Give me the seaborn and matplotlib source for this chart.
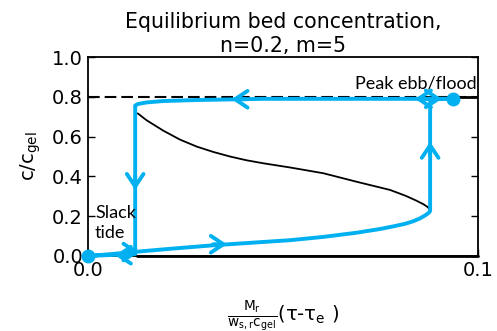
import numpy as np
import pandas as pd
import matplotlib
matplotlib.use('Agg')
import matplotlib.pyplot as plt
import seaborn as sns

# 平衡曲线下支（读图取点），同时也是涨潮路径
x_lower = [0.0, 0.00615, 0.01249, 0.02231, 0.03213, 0.04282, 0.05179, 0.06033, 0.06890,
           0.07487, 0.07872, 0.08128, 0.08341, 0.08513, 0.08641, 0.08730, 0.0877]
c_lower = [0.0, 0.010, 0.0216, 0.0382, 0.0538, 0.0678, 0.0794, 0.0960, 0.1171,
           0.1357, 0.1508, 0.1618, 0.1749, 0.1894, 0.2040, 0.2160, 0.226]
# 平衡曲线上支
x_upper = [0.0877, 0.08755, 0.08700, 0.08600, 0.08420, 0.08150, 0.07744, 0.06890, 0.06033,
           0.05179, 0.04495, 0.04069, 0.03641, 0.03213, 0.02787, 0.02359, 0.01931, 0.01505, 0.01274]
c_upper = [0.226, 0.236, 0.247, 0.260, 0.278, 0.302, 0.332, 0.373, 0.416,
           0.445, 0.466, 0.481, 0.500, 0.523, 0.550, 0.585, 0.630, 0.682, 0.717]

# 潮周期路径：上升 -> 峰值 -> 回落 -> 憩流
x_rise = [0.0877, 0.0877, 0.0936]
c_rise = [0.226, 0.790, 0.790]
x_fall = [0.0936, 0.0450, 0.0364, 0.0279, 0.0193, 0.01505, 0.0128, 0.0121, 0.0121, 0.0]
c_fall = [0.790, 0.790, 0.787, 0.784, 0.779, 0.772, 0.764, 0.756, 0.010, 0.0]

# 箭头位置和方向
arrow_x = [0.0356, 0.0877, 0.0907, 0.0838, 0.0368, 0.0121, 0.0069, 0.0132]
arrow_c = [0.059, 0.574, 0.790, 0.790, 0.788, 0.332, 0.004, 0.020]
arrow_dir = ['right', 'up', 'right', 'left', 'left', 'down', 'left', 'right']

dots_x = [0.0, 0.0936]
dots_c = [0.0, 0.787]

c_gel_line = 0.8
peak_x_start = 0.0936

blue = '#00b0f0'

sns.set_style('ticks')
plt.rcParams['font.family'] = ['DejaVu Sans']
plt.rcParams['mathtext.default'] = 'regular'
plt.rcParams['text.color'] = 'black'
plt.rcParams['axes.labelcolor'] = 'black'

fig = plt.figure(figsize=(4.97, 3.31), dpi=100)
ax = fig.add_axes([0.177, 0.2266, 0.785, 0.601])

ax.axhline(c_gel_line, color='black', lw=1.5, ls=(0, (5.6, 2.4)), zorder=1)
ax.plot([peak_x_start, 0.1], [c_gel_line, c_gel_line], color='black', lw=2, zorder=1)
ax.plot([0.0125, 0.1], [0, 0], color='black', lw=2, zorder=1, clip_on=False)

eq = pd.DataFrame({'x': x_lower + x_upper[1:], 'c': c_lower + c_upper[1:]})
sns.lineplot(data=eq, x='x', y='c', sort=False, estimator=None, color='black', lw=1.3, ax=ax, zorder=2)

path = pd.DataFrame({'x': x_lower + x_rise[1:] + x_fall[1:],
                     'c': c_lower + c_rise[1:] + c_fall[1:]})
sns.lineplot(data=path, x='x', y='c', sort=False, estimator=None, color=blue, lw=2.8, ax=ax,
             zorder=3, clip_on=False)

offsets = {'right': (-10, 0), 'left': (10, 0), 'up': (0, -10), 'down': (0, 10)}
for xa, ca, d in zip(arrow_x, arrow_c, arrow_dir):
    ax.annotate('', xy=(xa, ca), xytext=offsets[d], textcoords='offset points',
                arrowprops=dict(arrowstyle='->,head_length=0.6,head_width=0.4', color=blue, lw=2.8,
                                shrinkA=0, shrinkB=0, mutation_scale=15),
                zorder=4, annotation_clip=False)

ax.plot(dots_x, dots_c, 'o', color=blue, ms=9, zorder=5, clip_on=False)

ax.text(0.0995, 0.865, 'Peak ebb/flood', family='Lato', fontsize=13, ha='right', va='center')
ax.text(0.0018, 0.165, 'Slack\ntide', family='Lato', fontsize=13, ha='left', va='center', linespacing=1.3)

ax.set_xlim(0, 0.1)
ax.set_ylim(0, 1.0)
ax.set_xticks([0, 0.1])
ax.set_xticklabels(['0.0', '0.1'])
ax.set_yticks([0, 0.2, 0.4, 0.6, 0.8, 1.0])
ax.set_yticklabels(['0.0', '0.2', '0.4', '0.6', '0.8', '1.0'])
ax.tick_params(direction='in', length=5, width=1, labelsize=14, right=True, top=False, colors='black')
for s in ax.spines.values():
    s.set_color('black')
    s.set_linewidth(1.3)

ax.set_xlabel(r'$\frac{M_r}{w_{s,r}c_{gel}}(\tau$-$\tau_e\ )$', fontsize=14, labelpad=13)
ax.set_ylabel(r'$c/c_{gel}$', fontsize=14, labelpad=7)
ax.set_title('Equilibrium bed concentration,\nn=0.2, m=5', fontsize=14.8, pad=4)

fig.savefig('out.png', dpi=100)
